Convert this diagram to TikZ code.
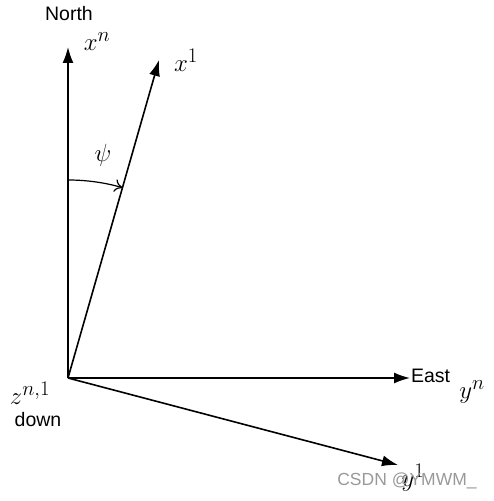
\documentclass[tikz,border=0pt]{standalone}
\usepackage{amsmath}
\usepackage{fontspec}
\setsansfont{Liberation Sans}
\usetikzlibrary{arrows.meta}
\tikzset{
    every node/.style={inner sep=0mm, outer sep=0mm},
    axis/.style={line width=1.6pt, -{Latex[length=16pt, width=11pt]}},
    sym/.style={font=\fontsize{27.5}{32}\selectfont},
    word/.style={font=\sffamily\fontsize{19.5}{22}\selectfont}
}

\begin{document}
\begin{tikzpicture}[x=1pt, y=1pt]
    \useasboundingbox (0,0) rectangle (493,501);

    \coordinate (o) at (68, 123);
    \coordinate (xn) at (68, 454);
    \coordinate (xb) at (159, 441);
    \coordinate (yn) at (410, 123);
    \coordinate (yb) at (398, 36);
    \coordinate (as) at (68, 321);

    \draw[axis] (o) -- (xn);
    \draw[axis] (o) -- (xb);
    \draw[axis] (o) -- (yn);
    \draw[axis] (o) -- (yb);

    % heading angle
    \draw[line width=1.2pt, -{To[length=8pt, width=13pt]}]
        (as) arc[start angle=90, end angle=74, radius=198];

    \node (north) at (69, 487) [word] {North};
    \node (lxn) at (97, 459) [sym] {$x^n$};
    \node (lxb) at (186, 441) [sym] {$x^1$};
    \node (psi) at (103, 346) [sym] {$\psi$};
    \node (east) at (411, 125) [word, anchor=west] {East};
    \node (lyn) at (472, 109) [sym] {$y^n$};
    \node (lzn) at (30, 108) [sym] {$z^{n,1}$};
    \node (down) at (38, 81) [word] {down};
    \node (lyb) at (413, 23) [sym] {$y^1$};

    \node (mark) at (407, 20) [font=\sffamily\fontsize{17.5}{20}\selectfont,
        text=black!40] {CSDN @YMWM\_};
\end{tikzpicture}
\end{document}
